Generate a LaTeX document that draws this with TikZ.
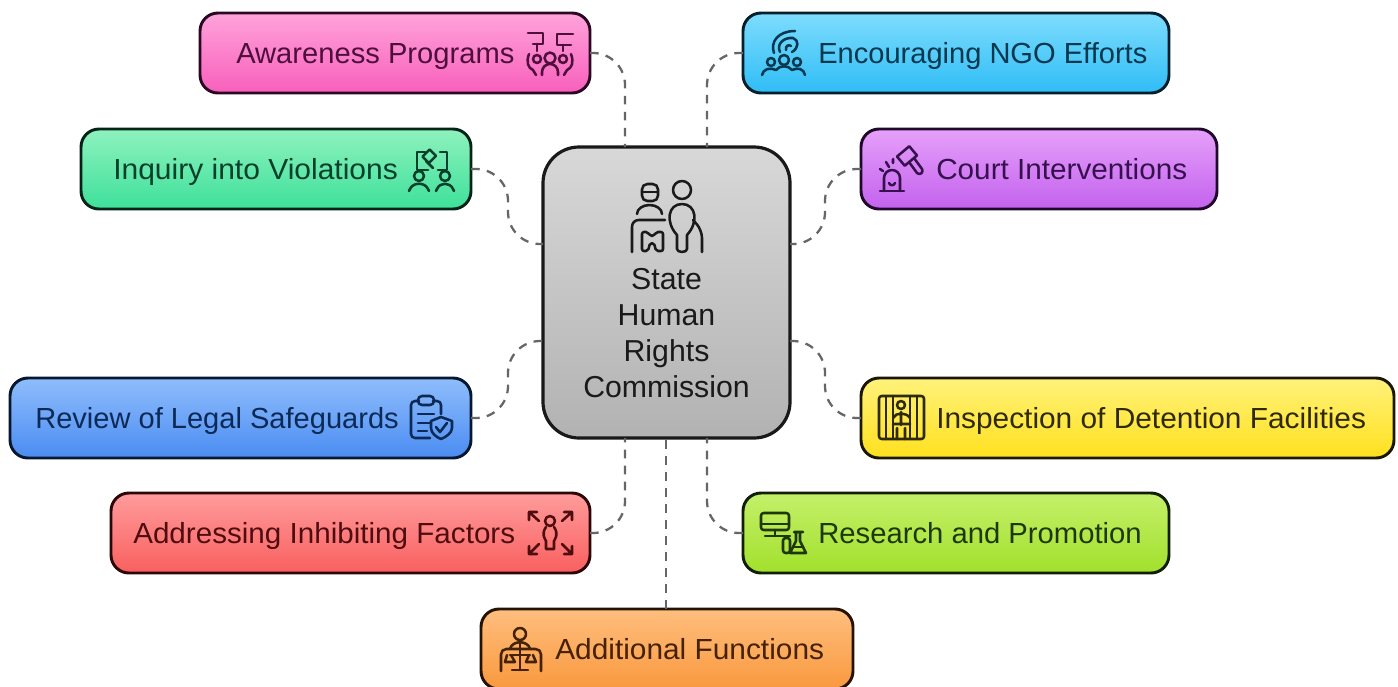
\documentclass[tikz,border=0pt]{standalone}
\usepackage{fontspec}
\usepackage{graphicx}
\setmainfont{Liberation Sans}
\usetikzlibrary{calc}
\definecolor{pinkT}{HTML}{FFA3DA}\definecolor{pinkB}{HTML}{F85FBC}\definecolor{pinkI}{HTML}{4F0F3C}
\definecolor{cyanT}{HTML}{7EDCFD}\definecolor{cyanB}{HTML}{2FBDF6}\definecolor{cyanI}{HTML}{06384F}
\definecolor{mintT}{HTML}{8EF2BE}\definecolor{mintB}{HTML}{3EE09A}\definecolor{mintI}{HTML}{07402A}
\definecolor{violT}{HTML}{E6A0FA}\definecolor{violB}{HTML}{C362EE}\definecolor{violI}{HTML}{37104F}
\definecolor{blueT}{HTML}{8FBDFC}\definecolor{blueB}{HTML}{4A8CF2}\definecolor{blueI}{HTML}{0C2A55}
\definecolor{yellT}{HTML}{FFF27A}\definecolor{yellB}{HTML}{FFE01E}\definecolor{yellI}{HTML}{2E2A05}
\definecolor{redT}{HTML}{FF9C9C}\definecolor{redB}{HTML}{F95F5F}\definecolor{redI}{HTML}{4F0D10}
\definecolor{limeT}{HTML}{C4F06A}\definecolor{limeB}{HTML}{A2E02C}\definecolor{limeI}{HTML}{1E3805}
\definecolor{orngT}{HTML}{FFBE7E}\definecolor{orngB}{HTML}{F9993E}\definecolor{orngI}{HTML}{452106}
\definecolor{greyT}{HTML}{D8D8D8}\definecolor{greyB}{HTML}{B2B2B2}\definecolor{greyI}{HTML}{1A1A1A}
\definecolor{linkc}{HTML}{666666}
\newcommand{\wider}[2]{\scalebox{#1}[1]{#2}}
\tikzset{
  x=0.75pt,y=-0.75pt,
  tagbox/.style n args={4}{draw=#4!55!black,line width=2.2pt,rounded corners=13.5pt,
    minimum width=#1*0.75pt,minimum height=60pt,top color=#2,bottom color=#3,inner sep=0pt,outer sep=0pt},
  tagtext/.style={anchor=base west,inner sep=0pt,font=\fontsize{21.8}{27}\selectfont},
  hubbox/.style={draw=black!90,line width=2.4pt,rounded corners=27pt,minimum width=185.25pt,minimum height=218.25pt,
    top color=greyT,bottom color=greyB,inner sep=0pt,outer sep=0pt},
  hubtext/.style={align=center,inner sep=0pt,text=greyI,font=\fontsize{22.7}{27}\selectfont},
  link/.style={draw=linkc,line width=1.7pt,dash pattern=on 6.5pt off 5.5pt,rounded corners=24pt},
  glyph/.style={line width=1.9pt,line cap=round,line join=round,fill=none},
}
\begin{document}
\begin{tikzpicture}
\useasboundingbox (0,0) rectangle (1398,686);
\fill[white] (0,0) rectangle (1398,686);
% hub
\node[hubbox] (hub) at (666.5,292.5) {};
\node[hubtext,anchor=north] (hubt) at (666.5,268) {State\\Human\\Rights\\Commission};
\coordinate (ht1) at (625,147);\coordinate (ht2) at (707,147);
\coordinate (hl1) at (543,244);\coordinate (hl2) at (543,341);
\coordinate (hr1) at (790,244);\coordinate (hr2) at (790,341);
\coordinate (hb1) at (625,438);\coordinate (hb2) at (666,438);\coordinate (hb3) at (707,438);
% boxes
\node[tagbox={390}{pinkT}{pinkB}{pinkI}] (aw) at (395,53) {};
\node[tagbox={426}{cyanT}{cyanB}{cyanI}] (ng) at (956,53) {};
\node[tagbox={390}{mintT}{mintB}{mintI}] (iq) at (276,169) {};
\node[tagbox={356}{violT}{violB}{violI}] (ct) at (1039,169) {};
\node[tagbox={461}{blueT}{blueB}{blueI}] (rv) at (240.5,418) {};
\node[tagbox={533}{yellT}{yellB}{yellI}] (dt) at (1127.5,418) {};
\node[tagbox={479}{redT}{redB}{redI}] (ad) at (350.5,533) {};
\node[tagbox={426}{limeT}{limeB}{limeI}] (rs) at (956,533) {};
\node[tagbox={372}{orngT}{orngB}{orngI}] (af) at (667,649) {};
% labels
\node[tagtext,text=pinkI] (awt) at (236,63) {\wider{1.003}{Awareness Programs}};
\node[tagtext,text=cyanI] (ngt) at (818,63) {\wider{1.0}{Encouraging NGO Efforts}};
\node[tagtext,text=mintI] (iqt) at (113,179) {\wider{1.032}{Inquiry into Violations}};
\node[tagtext,text=violI] (ctt) at (936,179) {\wider{1.022}{Court Interventions}};
\node[tagtext,text=blueI] (rvt) at (35,428) {\wider{1.0}{Review of Legal Safeguards}};
\node[tagtext,text=yellI] (dtt) at (936,428) {\wider{1.027}{Inspection of Detention Facilities}};
\node[tagtext,text=redI] (adt) at (133,543) {\wider{1.019}{Addressing Inhibiting Factors}};
\node[tagtext,text=limeI] (rst) at (818,543) {\wider{1.006}{Research and Promotion}};
\node[tagtext,text=orngI] (aft) at (555,659) {\wider{1.027}{Additional Functions}};
% connectors
\draw[link] (aw.east) -| (ht1);
\draw[link] (ng.west) -| (ht2);
\draw[link] (iq.east) -- ++(37,0) |- (hl1);
\draw[link] (ct.west) -- ++(-36,0) |- (hr1);
\draw[link] (rv.east) -- ++(37,0) |- (hl2);
\draw[link] (dt.west) -- ++(-36,0) |- (hr2);
\draw[link] (ad.east) -| (hb1);
\draw[link] (rs.west) -| (hb3);
\draw[link] (af.north -| hb2) -- (hb2);
% hub icon
\begin{scope}[glyph,draw=greyI]
\draw[rounded corners=4pt] (642,184) rectangle (658,201);
\draw (642,192) -- (658,192);
\draw (637,214) arc[start angle=180,end angle=360,x radius=12.5,y radius=9];
\draw[rounded corners=5pt] (632,252) -- (632,220) -- (665,220);
\draw[rounded corners=1.5pt] (642,232) -- (648,232) -- (650,236) -- (654,236) -- (656,232) -- (663,232) -- (663,251) -- (656,251) -- (654,243) -- (650,243) -- (648,251) -- (642,251) -- cycle;
\draw (682,190) circle[radius=9];
\draw (677,249) -- (677,235) .. controls (665,222) and (668,204) .. (682,204) .. controls (696,204) and (699,222) .. (687,235) -- (687,249) arc[start angle=0,end angle=180,x radius=5,y radius=3];
\draw[rounded corners=6pt] (693,220) -- (702,230) -- (702,252);
\end{scope}
% awareness
\begin{scope}[glyph,draw=pinkI]
\draw (528,33) -- (543,33) -- (543,44) -- (533,44) (537,44) -- (537,51);
\draw (573,34) -- (557,34) -- (557,45) -- (571,45) (563,45) -- (563,51);
\draw (550,58) circle[radius=5.5] (537,59) circle[radius=4] (563,59) circle[radius=4];
\draw (542,75) -- (542,72) arc[start angle=180,end angle=360,radius=8] -- (558,75);
\draw (529,54) .. controls (526,62) and (528,68) .. (533,70) -- (536,75);
\draw (571,54) .. controls (574,62) and (572,68) .. (567,70) -- (564,75);
\end{scope}
% NGO
\begin{scope}[glyph,draw=cyanI]
\draw (784,60) circle[radius=5] (771,62) circle[radius=4] (797,62) circle[radius=4];
\draw (762,75) .. controls (763,69) and (770,67) .. (776,70) .. controls (780,65) and (788,65) .. (792,70) .. controls (798,67) and (804,69) .. (805,75);
\draw (774,53) .. controls (770,42) and (778,31) .. (795,31);
\draw (780,52) .. controls (776,44) and (784,37) .. (793,38) .. controls (799,40) and (799,48) .. (792,52);
\draw (786,50) .. controls (785,46) and (789,44) .. (791,46);
\end{scope}
% inquiry
\begin{scope}[glyph,draw=mintI]
\draw (425,152) -- (417,152) -- (417,170) -- (428,170) (438,170) -- (447,170) -- (447,152) -- (440,152);
\draw[rotate around={45:(431,158)}] (426,151) rectangle (436,160);
\draw (433,168) -- (426,161);
\draw (419,176) circle[radius=5] (445,176) circle[radius=5];
\draw (409,191) -- (410,189) .. controls (413,182) and (425,182) .. (428,189) -- (429,191);
\draw (436,191) -- (437,189) .. controls (440,182) and (450,182) .. (453,189) -- (454,191);
\end{scope}
% court
\begin{scope}[glyph,draw=violI]
\draw (880,191) -- (904,191);
\draw (884,191) -- (884,178) arc[start angle=180,end angle=0,x radius=8,y radius=-8] -- (900,191);
\draw (889,183) .. controls (890,186) and (894,186) .. (895,183);
\draw (889,167) -- (886,162) (883,171) -- (880,169) (893,163) -- (893,159);
\draw[rotate around={40:(907,156)}] (899,150) rectangle (915,162);
\draw (909,162) -- (917,173) .. controls (920,176) and (924,172) .. (922,169) -- (914,158);
\end{scope}
% review
\begin{scope}[glyph,draw=blueI]
\draw[rounded corners=3pt] (419,401) -- (411,401) -- (411,438) -- (430,438);
\draw[rounded corners=3pt] (433,401) -- (441,401) -- (441,414);
\draw[rounded corners=3pt] (418,396) rectangle (434,405);
\draw (418,414) -- (434,414) (418,423) -- (430,423) (418,431) -- (427,431);
\draw (441,417) -- (452,421) -- (452,428) .. controls (452,433) and (446,437) .. (441,439) .. controls (436,437) and (431,433) .. (431,428) -- (431,421) -- cycle;
\draw (436,427) -- (440,432) -- (447,423);
\end{scope}
% inspection
\begin{scope}[glyph,draw=yellI]
\draw[rounded corners=2pt] (879,396) rectangle (924,439);
\draw (886,396) -- (886,439) (893,396) -- (893,439) (910,396) -- (910,439) (917,396) -- (917,439);
\draw (901,405) circle[radius=4];
\draw (893,418) .. controls (896,412) and (906,412) .. (910,418) (901,412) -- (901,425) (893,424) -- (910,424) (897,439) -- (897,428) (905,439) -- (905,428);
\end{scope}
% addressing
\begin{scope}[glyph,draw=redI]
\draw (550,521) circle[radius=5];
\draw (546,527) .. controls (541,534) and (545,539) .. (546,541) -- (546,549) -- (554,549) -- (554,541) .. controls (555,539) and (559,534) .. (554,527);
\draw (529,512) -- (539,521) (529,512) -- (537,512) (529,512) -- (529,520);
\draw (572,512) -- (562,521) (572,512) -- (564,512) (572,512) -- (572,520);
\draw (529,554) -- (539,544) (529,554) -- (537,554) (529,554) -- (529,546);
\draw (572,554) -- (562,544) (572,554) -- (564,554) (572,554) -- (572,546);
\end{scope}
% research
\begin{scope}[glyph,draw=limeI]
\draw[rounded corners=2pt] (761,513) rectangle (789,530);
\draw (761,524) -- (789,524) (775,530) -- (775,536) (765,536) -- (790,536);
\draw (794,532) -- (803,532) (796,532) -- (796,541) -- (790,553) -- (806,553) -- (800,541) -- (800,532);
\draw[rounded corners=2pt] (783,538) rectangle (790,553);
\draw (793,547) -- (803,547);
\end{scope}
% additional
\begin{scope}[glyph,draw=orngI]
\draw (520,634) circle[radius=6];
\draw (510,649) .. controls (512,640) and (528,640) .. (530,649);
\draw[rounded corners=4pt] (501,671) -- (501,649) -- (541,649) -- (541,671);
\draw (520,641) -- (520,670) (512,670) -- (528,670) (510,655) -- (530,655);
\draw (507,655) -- (505,662) -- (515,662) -- (511,655);
\draw (529,655) -- (526,662) -- (536,662) -- (533,655);
\end{scope}
\end{tikzpicture}
\end{document}
